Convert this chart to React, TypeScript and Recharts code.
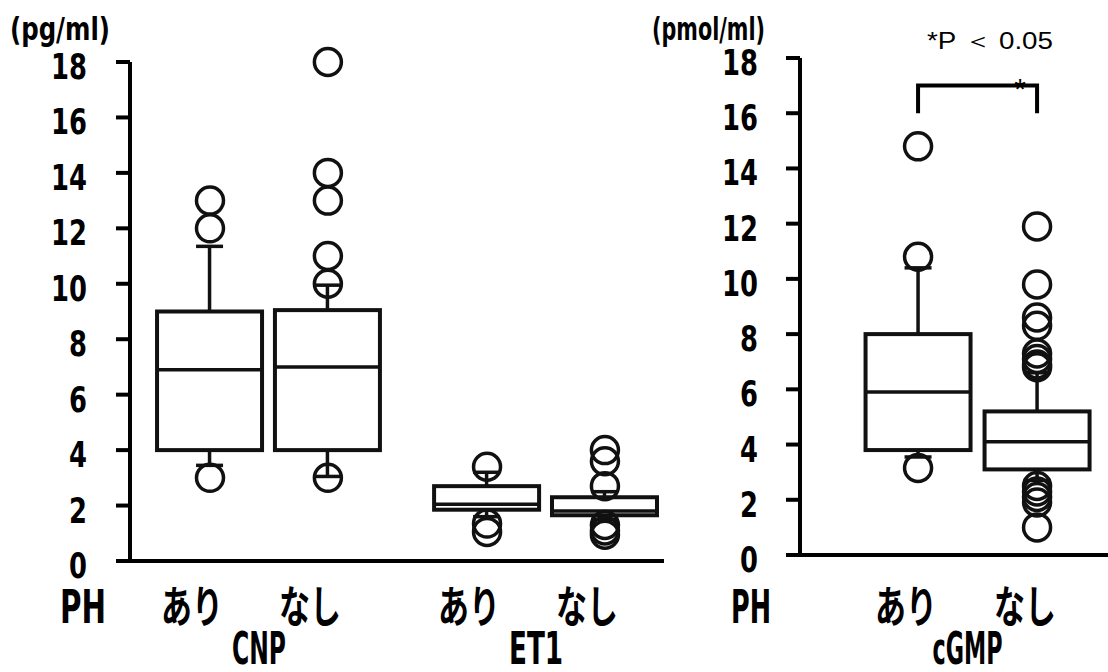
import React from "react";
import { Bar, ComposedChart, Scatter, XAxis, YAxis } from "recharts";

// y axis (same on both panels)
const yTicks = [0, 2, 4, 6, 8, 10, 12, 14, 16, 18];
const phLabels = ["あり", "なし"];
const leftGroups = ["CNP", "ET1"];
const rightGroups = ["cGMP"];

// box stats: [lower whisker, Q1, median, Q3, upper whisker]
const cnpAri = [3.45, 4.0, 6.9, 9.0, 11.35];
const cnpNashi = [3.05, 4.0, 7.0, 9.05, 9.95];
const et1Ari = [1.6, 1.85, 2.05, 2.7, 3.2];
const et1Nashi = [1.5, 1.65, 1.8, 2.3, 2.5];
const cgmpAri = [3.55, 3.8, 5.9, 8.0, 10.4];
const cgmpNashi = [2.7, 3.1, 4.1, 5.2, 6.6];

// outliers
const cnpAriOut = [13, 12, 3];
const cnpNashiOut = [18, 14, 13, 11, 10, 3];
const et1AriOut = [3.4, 1.35, 1.05];
const et1NashiOut = [4.0, 3.6, 2.7, 1.3, 1.1, 0.95];
const cgmpAriOut = [14.8, 10.8, 3.15];
const cgmpNashiOut = [11.9, 9.8, 8.6, 8.3, 7.3, 7.1, 6.9, 6.8, 2.5, 2.3, 2.1, 1.9, 1.0];

// significance bracket (cGMP), in y units
const bracketLevels = [16, 17];

const GROUP_STEP = 2.35;
const BOX_W = 105;
const CAP_W = 27;
const INK = "#111";

const numFont = '"Liberation Sans Narrow", "DejaVu Sans Condensed", "Liberation Sans", sans-serif';
const jpFont = '"Noto Sans CJK JP", "Noto Sans", sans-serif';

type BoxRow = { x: number; label: string; lo: number; q1: number; med: number; q3: number; hi: number };
type Pt = { x: number; v: number };

function layout(stats: number[][][], outs: number[][][]) {
  const boxes: BoxRow[] = [];
  const points: Pt[] = [];
  const centers: number[] = [];
  stats.forEach((pair, g) => {
    pair.forEach((s, i) => {
      const x = 1 + g * GROUP_STEP + i;
      boxes.push({ x, label: phLabels[i], lo: s[0], q1: s[1], med: s[2], q3: s[3], hi: s[4] });
      outs[g][i].forEach((v) => points.push({ x, v }));
    });
    centers.push(1 + g * GROUP_STEP + 0.5);
  });
  return { boxes, points, centers };
}

const left = layout([[cnpAri, cnpNashi], [et1Ari, et1Nashi]], [[cnpAriOut, cnpNashiOut], [et1AriOut, et1NashiOut]]);
const right = layout([[cgmpAri, cgmpNashi]], [[cgmpAriOut, cgmpNashiOut]]);
const bracket: Pt[] = [
  { x: right.boxes[0].x, v: bracketLevels[0] },
  { x: right.boxes[0].x, v: bracketLevels[1] },
  { x: right.boxes[1].x, v: bracketLevels[1] },
  { x: right.boxes[1].x, v: bracketLevels[0] },
];

function BoxShape(props: any) {
  const { x, y, width, height, payload } = props;
  const cx = x + width / 2;
  const top = Math.min(y, y + height);
  const bottom = Math.max(y, y + height);
  const ppu = (bottom - top) / (payload.hi - payload.lo);
  const py = (v: number) => bottom - (v - payload.lo) * ppu;
  return (
    <g stroke={INK} fill="none">
      <line x1={cx} x2={cx} y1={py(payload.hi)} y2={py(payload.q3)} strokeWidth={3.5} />
      <line x1={cx} x2={cx} y1={py(payload.q1)} y2={py(payload.lo)} strokeWidth={3.5} />
      <line x1={cx - CAP_W / 2} x2={cx + CAP_W / 2} y1={py(payload.hi)} y2={py(payload.hi)} strokeWidth={3.5} />
      <line x1={cx - CAP_W / 2} x2={cx + CAP_W / 2} y1={py(payload.lo)} y2={py(payload.lo)} strokeWidth={3.5} />
      <rect
        x={cx - BOX_W / 2}
        y={py(payload.q3)}
        width={BOX_W}
        height={py(payload.q1) - py(payload.q3)}
        fill="#fff"
        strokeWidth={4}
      />
      <line x1={cx - BOX_W / 2} x2={cx + BOX_W / 2} y1={py(payload.med)} y2={py(payload.med)} strokeWidth={3.5} />
    </g>
  );
}

function Ring(props: any) {
  return <circle cx={props.cx} cy={props.cy} r={13.5} fill="none" stroke={INK} strokeWidth={3.5} />;
}

function YTick(props: any) {
  const { x, y, payload } = props;
  return (
    <text
      transform={`translate(${x},${y + 17}) scale(0.82,1)`}
      textAnchor="end"
      fontFamily={numFont}
      fontSize={35}
      fontWeight={700}
      fill="#000"
    >
      {payload.value}
    </text>
  );
}

function PanelChart({
  data,
  groups,
  width,
  domain,
  plotTop,
  plotBottom,
  marginRight,
  yWidth,
  yMargin,
  labelDx,
  groupDx,
  bracketPts,
}: {
  data: ReturnType<typeof layout>;
  groups: string[];
  width: number;
  domain: number[];
  plotTop: number;
  plotBottom: number;
  marginRight: number;
  yWidth: number;
  yMargin: number;
  labelDx: number;
  groupDx: number;
  bracketPts?: Pt[];
}) {
  const phTick = (p: any) => {
    const row = data.boxes.find((b) => Math.abs(b.x - p.payload.value) < 1e-6);
    return (
      <text
        x={p.x + labelDx}
        y={623}
        textAnchor="middle"
        fontFamily={jpFont}
        fontSize={44}
        fontWeight={700}
        textLength={62}
        lengthAdjust="spacingAndGlyphs"
        fill="#000"
      >
        {row ? row.label : ""}
      </text>
    );
  };
  const groupTick = (p: any) => {
    const i = data.centers.findIndex((c) => Math.abs(c - p.payload.value) < 1e-6);
    const name = groups[i] ?? "";
    return (
      <text
        x={p.x + groupDx}
        y={664}
        textAnchor="middle"
        fontFamily={numFont}
        fontSize={44}
        fontWeight={700}
        textLength={name.length * 16 + 6}
        lengthAdjust="spacingAndGlyphs"
        fill="#000"
      >
        {name}
      </text>
    );
  };
  return (
    <ComposedChart
      width={width}
      height={672}
      data={data.boxes}
      margin={{ top: plotTop, right: marginRight, bottom: 672 - plotBottom - 100, left: 0 }}
    >
      <XAxis
        xAxisId="a"
        dataKey="x"
        type="number"
        domain={domain}
        ticks={data.boxes.map((b) => b.x)}
        interval={0}
        height={60}
        tickSize={0}
        tickLine={false}
        axisLine={{ stroke: "#000", strokeWidth: 4 }}
        tick={phTick}
      />
      <XAxis
        xAxisId="b"
        dataKey="x"
        type="number"
        domain={domain}
        ticks={data.centers}
        interval={0}
        height={40}
        tickSize={0}
        tickLine={false}
        axisLine={false}
        tick={groupTick}
      />
      <YAxis
        yAxisId="v"
        type="number"
        domain={[0, 18]}
        ticks={yTicks}
        interval={0}
        width={yWidth}
        tickSize={14}
        tickMargin={yMargin}
        axisLine={{ stroke: "#000", strokeWidth: 4 }}
        tickLine={{ stroke: "#000", strokeWidth: 4 }}
        tick={<YTick />}
      />
      <Bar
        xAxisId="a"
        yAxisId="v"
        dataKey={(d: BoxRow) => [d.lo, d.hi]}
        barSize={BOX_W}
        shape={<BoxShape />}
        isAnimationActive={false}
      />
      <Scatter
        xAxisId="a"
        yAxisId="v"
        data={data.points}
        dataKey="v"
        shape={<Ring />}
        isAnimationActive={false}
      />
      {bracketPts && (
        <Scatter
          xAxisId="a"
          yAxisId="v"
          data={bracketPts}
          dataKey="v"
          line={{ stroke: "#000", strokeWidth: 4 }}
          lineType="joint"
          shape={() => <g />}
          isAnimationActive={false}
        />
      )}
    </ComposedChart>
  );
}

export default function App() {
  return (
    <div style={{ position: "relative", width: 1108, height: 672, background: "#fff", overflow: "hidden" }}>
      <style>{"body{margin:0}"}</style>
      <div style={{ position: "absolute", left: 0, top: 0 }}>
        <PanelChart
          data={left}
          groups={leftGroups}
          width={680}
          domain={[0.3215, 4.851]}
          plotTop={62}
          plotBottom={561}
          marginRight={16}
          yWidth={130}
          yMargin={29}
          labelDx={-18}
          groupDx={-10}
        />
      </div>
      <div style={{ position: "absolute", left: 680, top: 0 }}>
        <PanelChart
          data={right}
          groups={rightGroups}
          width={428}
          domain={[0.008, 2.596]}
          plotTop={58}
          plotBottom={555}
          marginRight={0}
          yWidth={120}
          yMargin={28}
          labelDx={-12}
          groupDx={-10}
          bracketPts={bracket}
        />
      </div>
      <svg
        width={1108}
        height={672}
        style={{ position: "absolute", left: 0, top: 0, pointerEvents: "none" }}
      >
        <g fontFamily={numFont} fontWeight={700} fill="#000">
          <text x={10} y={40} fontSize={32} textLength={100} lengthAdjust="spacingAndGlyphs">
            (pg/ml)
          </text>
          <text x={652} y={40} fontSize={32} textLength={113} lengthAdjust="spacingAndGlyphs">
            (pmol/ml)
          </text>
          <text x={60} y={623} fontSize={46} textLength={46} lengthAdjust="spacingAndGlyphs">
            PH
          </text>
          <text x={731} y={623} fontSize={46} textLength={40} lengthAdjust="spacingAndGlyphs">
            PH
          </text>
        </g>
        <text
          x={927}
          y={49}
          fontFamily='"Liberation Sans", Arial, sans-serif'
          fontSize={24}
          textLength={126}
          lengthAdjust="spacingAndGlyphs"
          fill="#000"
        >
          *P ＜ 0.05
        </text>
        <text x={1020} y={99} textAnchor="middle" fontFamily='"Liberation Sans", sans-serif' fontSize={30} fill="#000">
          *
        </text>
      </svg>
    </div>
  );
}
